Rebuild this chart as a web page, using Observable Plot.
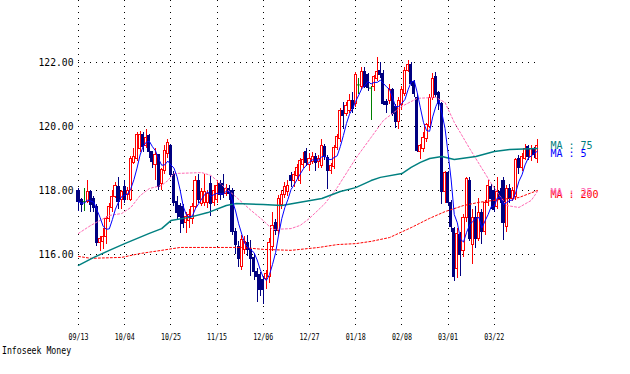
<!DOCTYPE html>
<html>
<head>
<meta charset="utf-8">
<script src="https://cdn.jsdelivr.net/npm/d3@7"></script>
<script src="https://cdn.jsdelivr.net/npm/@observablehq/plot@0.6"></script>
<style>
  html, body { margin: 0; padding: 0; background: #fff; }
  #chart svg { display: block; }
  #caption { font-family: "DejaVu Sans Mono", monospace; font-size: 11px; line-height: 14px; padding-left: 2px; height: 30px; color: #000; }
  #caption span { display: inline-block; transform: scaleX(0.745); transform-origin: 0 0; }
</style>
</head>
<body>
<div id="chart"></div>
<div id="caption"><span>Infoseek Money</span></div>
<script>
// ---- data (daily candles, one entry per trading day) ----
const tickLabels = ["09/13","10/04","10/25","11/15","12/06","12/27","01/18","02/08","03/01","03/22"];
const tickIdx = [0,15,30,45,60,75,90,105,120,135];
const yTicks = [116,118,120,122];

const open = [
118.0,117.7,117.65,117.65,117.95,117.75,117.5,116.35,116.4,116.55,
117.1,117.45,117.8,118.1,117.7,118.1,117.85,117.7,118.85,119.0,
119.3,119.75,119.4,119.7,119.2,118.8,119.1,118.2,118.6,119.15,
119.4,118.5,117.65,117.53,117.5,117.0,117.05,117.1,117.48,118.31,
117.58,117.6,117.6,118.21,117.6,117.7,118.2,118.2,117.9,118.05,
118.0,116.7,116.25,115.6,116.15,116.35,116.15,115.9,115.45,115.35,
115.2,115.25,115.3,116.25,117.0,116.75,117.55,117.85,117.95,118.45,
118.3,118.45,118.3,118.8,119.2,118.8,118.9,119.05,118.9,118.77,
119.35,119.03,118.6,118.72,119.34,119.6,120.49,120.4,120.5,120.8,
120.7,121.3,121.23,121.7,121.6,121.2,121.23,121.5,121.75,121.65,
120.76,120.81,121.13,120.6,120.14,120.66,121.02,121.75,121.91,121.38,
120.9,119.2,119.3,119.6,120.0,120.9,121.55,121.05,120.7,117.95,
118.55,117.6,116.8,115.55,116.6,116.1,117.15,118.3,116.3,117.15,
116.5,117.3,116.7,117.6,118.1,118.0,117.5,117.95,118.3,116.85,
118.05,117.75,117.8,119.0,118.7,119.0,119.35,119.05,119.3,119.0];
const high = [
118.05,117.75,118.05,118.3,118.0,117.8,117.55,116.55,116.8,117.2,
117.6,118.0,118.25,118.4,118.0,118.3,118.1,119.05,119.3,119.8,
119.85,119.8,119.9,119.75,119.2,119.3,119.1,118.7,119.4,119.6,
119.45,118.6,117.8,117.6,117.55,117.3,117.4,117.6,118.45,118.5,
118.05,118.5,118.0,118.45,118.15,118.3,118.3,118.5,118.2,118.15,
118.05,116.8,116.4,116.6,116.55,116.6,116.45,116.0,115.55,115.45,
115.3,115.5,116.5,117.3,117.1,117.85,118.0,118.25,118.3,118.55,
118.6,118.8,119.0,119.2,119.3,119.15,119.2,119.15,119.1,119.6,
119.45,119.1,118.85,119.4,119.75,120.55,120.75,120.75,121.0,121.05,
121.7,121.5,121.85,121.85,121.65,121.25,121.6,122.15,122.0,121.75,
120.85,121.3,121.2,120.7,120.9,121.25,121.85,122.06,122.0,121.45,
121.0,119.45,119.8,120.1,121.0,121.65,121.7,121.1,120.75,118.6,
118.6,117.7,116.85,116.8,116.7,117.25,118.4,118.4,117.4,117.5,
117.75,117.4,117.7,118.3,118.2,118.1,118.4,118.05,118.4,118.15,
118.2,118.1,119.0,119.1,119.15,119.45,119.4,119.4,119.35,119.6];
const low = [
117.35,117.3,117.35,117.6,117.3,117.3,116.25,116.1,116.15,116.3,
117.0,117.3,117.75,117.4,117.4,117.6,117.7,117.65,118.8,118.9,
119.2,119.2,119.3,119.0,118.7,118.3,118.0,118.0,118.5,119.0,
118.4,117.5,117.1,116.65,116.8,116.65,116.8,116.95,117.4,117.6,
117.5,117.5,117.45,117.2,117.5,117.6,117.7,117.75,117.8,117.7,
116.6,116.0,115.6,115.5,116.0,115.95,115.3,115.2,114.5,114.7,
114.45,114.9,115.1,116.1,116.6,116.6,117.4,117.75,117.8,118.1,
118.1,118.35,118.2,118.7,118.75,118.6,118.8,118.6,118.7,118.7,
118.95,118.04,118.5,118.65,119.25,119.5,119.9,120.3,120.4,120.4,
120.6,121.0,121.15,121.2,121.1,120.2,121.1,121.4,121.5,120.65,
120.4,120.7,120.3,119.95,119.9,120.5,120.95,121.7,121.25,120.9,
119.2,118.97,119.2,119.5,119.95,120.8,120.9,120.5,117.55,117.6,
117.5,116.7,115.15,115.25,115.3,115.9,117.0,116.4,115.7,116.2,
116.4,116.3,116.6,117.5,117.4,117.3,117.4,117.6,116.45,116.7,
117.6,117.65,117.7,118.5,118.6,118.95,118.95,118.9,119.0,118.85];
const close = [
117.65,117.55,117.65,117.95,117.55,117.45,116.35,116.5,116.55,117.1,
117.5,117.8,118.15,117.65,117.95,117.7,118.0,119.0,119.05,119.75,
119.75,119.35,119.65,119.2,118.9,119.1,118.1,118.65,119.25,119.5,
118.5,117.6,117.3,117.17,116.96,117.17,117.25,117.5,118.31,117.69,
117.94,117.95,117.9,117.58,118.0,118.15,117.85,117.85,118.05,117.9,
116.7,116.3,115.85,116.45,116.4,116.15,115.85,115.45,115.3,114.9,
114.9,115.4,116.35,116.9,116.75,117.75,117.85,118.1,118.15,118.3,
118.5,118.7,118.93,118.95,118.87,119.0,119.05,118.85,119.0,119.4,
119.05,118.6,118.77,119.34,119.66,120.49,120.33,120.65,120.8,120.55,
121.6,121.3,121.7,121.25,121.2,121.2,121.54,121.7,121.6,120.7,
120.66,121.13,120.4,120.14,120.81,121.13,121.75,121.91,121.33,121.02,
119.25,119.4,119.65,120.05,120.9,121.5,121.0,120.7,117.95,118.55,
117.6,116.85,115.3,116.65,116.0,117.15,118.35,116.5,117.15,116.5,
117.3,116.7,117.6,118.15,117.75,117.4,117.95,117.7,117.0,118.05,
117.75,118.0,118.95,118.7,119.05,119.3,119.05,119.3,119.1,119.4];

// moving averages (day index, value)
const ma25Idx = [0,4,10,14,17,20,23,27,29,31,40,43,46,51,56,60,63,69,72,75,80,84,90,95,99,105,110,116,119,122,127,134,139,143,147,149];
const ma25Val = [116.66,116.91,117.22,117.28,117.47,117.84,118.06,118.16,118.31,118.53,118.56,118.47,118.22,117.81,117.38,117.06,116.78,116.81,116.91,117.13,117.59,118.09,119.0,119.66,120.19,120.63,120.88,120.91,120.75,120.13,119.31,118.22,117.53,117.47,117.69,117.97];
const ma75Idx = [0,5,10,15,23,27,30,36,42,48,51,60,66,72,79,85,90,95,98,105,108,111,114,118,122,129,135,140,149];
const ma75Val = [115.66,115.91,116.13,116.34,116.66,116.81,117.06,117.16,117.31,117.53,117.59,117.56,117.53,117.63,117.75,117.97,118.09,118.31,118.41,118.53,118.72,118.88,119.0,119.06,118.97,119.06,119.22,119.28,119.31];
const ma200Idx = [0,4,14,20,27,33,53,60,69,78,84,90,95,101,108,114,119,125,130,137,143,149];
const ma200Val = [115.94,115.88,115.91,116.03,116.13,116.22,116.22,116.16,116.13,116.22,116.31,116.34,116.41,116.53,116.84,117.13,117.34,117.53,117.63,117.72,117.78,118.0];

// ---- build ----
const RED = "#ff0000", NAVY = "#000080", GREEN = "#008000", BLUE = "#0000ff", TEAL = "#008080", PINK = "#ff69b4";
const candles = close.map((c, i) => ({i, o: open[i], h: high[i], l: low[i], c}));
const colorOf = d => d.c > d.o ? RED : d.c < d.o ? NAVY : GREEN;
const pts = (idx, val) => idx.map((i, k) => ({i, v: val[k]}));
const lastI = candles.length - 1;
const ma5Last = d3.mean(close.slice(-5));

const labelMark = (t, v, color, dy) =>
  Plot.text([{t, v}], {x: () => lastI, y: "v", text: "t", fill: color, textAnchor: "start", dx: 13, dy, fontSize: 10});

const chart = Plot.plot({
  width: 630, height: 344,
  marginLeft: 78, marginRight: 90, marginTop: 0, marginBottom: 14,
  style: {fontFamily: "DejaVu Sans Mono", fontSize: "11px", background: "#fff", color: "#000", overflow: "visible"},
  x: {type: "linear", domain: [0, 150], label: null},
  y: {domain: [113.625, 123.9375], label: null},
  marks: [
    Plot.ruleX(tickIdx, {x: d => d, stroke: "#000", strokeDasharray: "1,5", shapeRendering: "crispEdges"}),
    Plot.ruleY(yTicks, {y: d => d, x1: 0, x2: 150, stroke: "#000", strokeDasharray: "1,5", shapeRendering: "crispEdges"}),
    Plot.axisY(yTicks, {tickSize: 0, tickPadding: 5, tickFormat: d => d.toFixed(2), fontSize: 11, label: null}),
    Plot.axisX(tickIdx, {tickSize: 0, tickPadding: 3, tickFormat: d => tickLabels[tickIdx.indexOf(d)], fontSize: 9, label: null}),
    Plot.ruleX(candles, {x: "i", y1: "l", y2: "h", stroke: colorOf, shapeRendering: "crispEdges"}),
    Plot.rect(candles.filter(d => d.o !== d.c), {
      x1: d => d.i - 0.35, x2: d => d.i + 0.35, y1: "o", y2: "c",
      fill: d => d.c > d.o ? "#fff" : NAVY, stroke: colorOf, shapeRendering: "crispEdges"
    }),
    Plot.ruleY(candles.filter(d => d.o === d.c), {y: "o", x1: d => d.i - 0.5, x2: d => d.i + 0.5, stroke: GREEN}),
    Plot.line(pts(ma200Idx, ma200Val), {x: "i", y: "v", stroke: RED, strokeWidth: 1, strokeDasharray: "2,2"}),
    Plot.line(pts(ma25Idx, ma25Val), {x: "i", y: "v", stroke: PINK, strokeWidth: 1, strokeDasharray: "2,2"}),
    Plot.line(pts(ma75Idx, ma75Val), {x: "i", y: "v", stroke: TEAL, strokeWidth: 1.5}),
    Plot.line(candles, Plot.windowY({k: 5, anchor: "end"}, {x: "i", y: "c", stroke: BLUE, strokeWidth: 1})),
    labelMark("MA : 75", ma75Val[ma75Val.length - 1], TEAL, -3),
    labelMark("MA : 5", ma5Last, BLUE, 3),
    labelMark("MA : 200", ma200Val[ma200Val.length - 1], RED, 4),
    labelMark("MA : 25", ma25Val[ma25Val.length - 1], PINK, 1.5)
  ]
});

document.getElementById("chart").appendChild(chart);
const svg = d3.select(chart);
svg.selectAll('g[aria-label="y-axis tick label"] text').attr("textLength", 35).attr("lengthAdjust", "spacingAndGlyphs");
svg.selectAll('g[aria-label="x-axis tick label"] text').attr("textLength", 20).attr("lengthAdjust", "spacingAndGlyphs");
</script>
</body>
</html>
